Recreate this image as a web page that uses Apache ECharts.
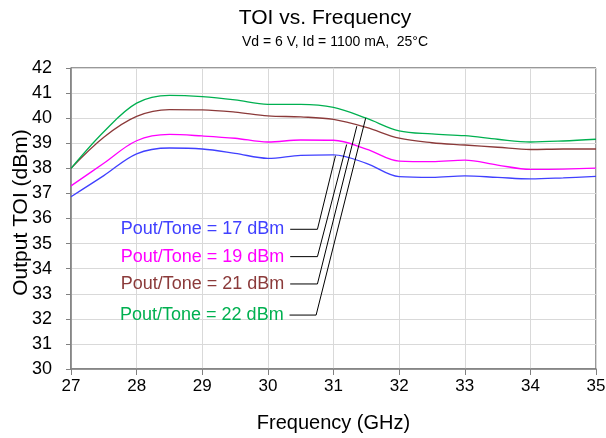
<!DOCTYPE html>
<html><head><meta charset="utf-8">
<script src="https://cdn.jsdelivr.net/npm/echarts@6/dist/echarts.min.js"></script>
<style>html,body{margin:0;padding:0;background:#fff}#c{width:606px;height:438px}</style>
</head><body><div id="c"></div>
<script>
const freq = [27, 27.5, 28, 28.5, 29, 29.5, 30, 30.5, 31, 31.5, 32, 32.5, 33, 33.5, 34, 34.5, 35];
const toi17 = [36.87, 37.71, 38.58, 38.81, 38.77, 38.6, 38.4, 38.52, 38.54, 38.2, 37.67, 37.64, 37.7, 37.64, 37.58, 37.62, 37.68];
const toi19 = [37.3, 38.2, 39.1, 39.35, 39.29, 39.2, 39.05, 39.13, 39.12, 38.77, 38.29, 38.27, 38.33, 38.13, 37.96, 37.97, 38.01];
const toi21 = [38.0, 39.24, 40.07, 40.34, 40.33, 40.24, 40.09, 40.05, 39.95, 39.63, 39.2, 39.02, 38.93, 38.84, 38.75, 38.77, 38.77];
const toi22 = [38.0, 39.46, 40.6, 40.91, 40.86, 40.73, 40.55, 40.55, 40.43, 40.0, 39.49, 39.37, 39.3, 39.16, 39.05, 39.09, 39.16];
const seriesNames = ['Pout/Tone = 17 dBm', 'Pout/Tone = 19 dBm', 'Pout/Tone = 21 dBm', 'Pout/Tone = 22 dBm'];
const colors = ['#4040ff', '#ff00ff', '#8b3a3a', '#00b050'];
// leader lines (in data units)
const leaderStart = [30.34, 30.34, 30.34, 30.33];
const leaderElbow = [30.755, 30.755, 30.755, 30.735];
const labelLevel = [35.57, 34.48, 33.39, 32.15];
const leaderEndF = [31.03, 31.2, 31.355, 31.49];
const leaderEndV = [38.5, 38.95, 39.68, 40.0];
const labelFreq = [30.25, 30.25, 30.25, 30.24];
const xTicks = [27, 28, 29, 30, 31, 32, 33, 34, 35];
const yTicks = [30, 31, 32, 33, 34, 35, 36, 37, 38, 39, 40, 41, 42];

const FONT = 'Liberation Sans, Arial, sans-serif';
const curves = [toi17, toi19, toi21, toi22];
const series = [];
curves.forEach((c, i) => {
  series.push({
    type: 'line', name: seriesNames[i], data: freq.map((f, k) => [f, c[k]]),
    smooth: 0.35, showSymbol: false, symbol: 'none',
    lineStyle: { color: colors[i], width: 1.3 }, z: 3
  });
});
for (let i = 0; i < 4; i++) {
  series.push({
    type: 'line', data: [[leaderStart[i], labelLevel[i]], [leaderElbow[i], labelLevel[i]], [leaderEndF[i], leaderEndV[i]]],
    showSymbol: false, symbol: 'none', silent: true,
    lineStyle: { color: '#000', width: 1 }, z: 4
  });
  series.push({
    type: 'scatter', data: [[labelFreq[i], labelLevel[i]]], symbolSize: 0, silent: true,
    itemStyle: { opacity: 1 },
    label: { show: true, position: 'left', distance: 0, formatter: seriesNames[i], opacity: 1,
      color: colors[i], fontFamily: FONT, fontSize: 18 }
  });
}

const chart = echarts.init(document.getElementById('c'), null, { renderer: 'canvas' });
chart.setOption({
  animation: false,
  backgroundColor: '#fff',
  title: [{
    text: 'TOI vs. Frequency', left: 320, textAlign: 'center', top: 3,
    textStyle: { fontFamily: FONT, fontSize: 21, fontWeight: 'normal', color: '#000' }
  }, {
    text: 'Vd = 6 V, Id = 1100 mA,  25°C', left: 330, textAlign: 'center', top: 30,
    textStyle: { fontFamily: FONT, fontSize: 14, fontWeight: 'normal', color: '#000' }
  }],
  grid: { left: 71, right: 10, top: 68, bottom: 69, show: true, borderColor: '#333', borderWidth: 1,
    containLabel: false, outerBoundsMode: 'none' },
  xAxis: {
    type: 'value', min: 27, max: 35, interval: 1,
    name: 'Frequency (GHz)', nameLocation: 'middle', nameGap: 44, nameMoveOverlap: false,
    nameTextStyle: { fontFamily: FONT, fontSize: 20, color: '#000' },
    axisLine: { lineStyle: { color: '#808080', width: 1.5 } },
    axisTick: { show: true, inside: false, length: 6, lineStyle: { color: '#808080' } },
    axisLabel: { fontFamily: FONT, fontSize: 17, color: '#000', margin: 9, formatter: v => xTicks.includes(v) ? String(v) : '' },
    splitLine: { show: true, lineStyle: { color: '#d9d9d9', width: 1 } }
  },
  yAxis: {
    type: 'value', min: 30, max: 42, interval: 1,
    name: 'Output TOI (dBm)', nameLocation: 'middle', nameGap: 39, nameRotate: 90, nameMoveOverlap: false,
    nameTextStyle: { fontFamily: FONT, fontSize: 21, color: '#000', padding: [0, 0, 0, 12] },
    axisLine: { show: true, lineStyle: { color: '#808080', width: 1.5 } },
    axisTick: { show: true, inside: false, length: 5, lineStyle: { color: '#808080' } },
    axisLabel: { fontFamily: FONT, fontSize: 18, color: '#000', margin: 19, formatter: v => yTicks.includes(v) ? String(v) : '' },
    splitLine: { show: true, lineStyle: { color: '#d9d9d9', width: 1 } }
  },
  series: series
});
</script></body></html>
